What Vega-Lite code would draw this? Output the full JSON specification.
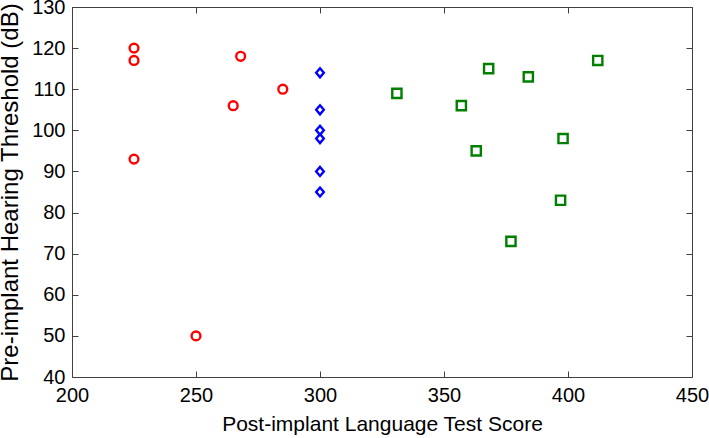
{
  "$schema": "https://vega.github.io/schema/vega-lite/v6.json",
  "width": 620,
  "height": 370,
  "autosize": {"type": "none"},
  "padding": {"left": 72, "top": 7, "right": 17, "bottom": 61},
  "background": "white",
  "config": {
    "view": {"stroke": "#404040", "strokeWidth": 1},
    "font": "Liberation Sans",
    "axis": {
      "grid": false,
      "domain": false,
      "tickColor": "#404040",
      "tickSize": -6,
      "labelFontSize": 20,
      "labelColor": "black",
      "labelFlush": false,
      "labelOverlap": false,
      "titleFontWeight": "normal",
      "titleColor": "black",
      "labelFont": "Liberation Sans",
      "titleFont": "Liberation Sans"
    }
  },
  "data": {
    "values": [
      {"score": 225, "threshold": 120, "group": "A"},
      {"score": 225, "threshold": 117, "group": "A"},
      {"score": 225, "threshold": 93, "group": "A"},
      {"score": 250, "threshold": 50, "group": "A"},
      {"score": 265, "threshold": 106, "group": "A"},
      {"score": 268, "threshold": 118, "group": "A"},
      {"score": 285, "threshold": 110, "group": "A"},
      {"score": 300, "threshold": 114, "group": "B"},
      {"score": 300, "threshold": 105, "group": "B"},
      {"score": 300, "threshold": 100, "group": "B"},
      {"score": 300, "threshold": 98, "group": "B"},
      {"score": 300, "threshold": 90, "group": "B"},
      {"score": 300, "threshold": 85, "group": "B"},
      {"score": 331, "threshold": 109, "group": "C"},
      {"score": 357, "threshold": 106, "group": "C"},
      {"score": 363, "threshold": 95, "group": "C"},
      {"score": 368, "threshold": 115, "group": "C"},
      {"score": 377, "threshold": 73, "group": "C"},
      {"score": 384, "threshold": 113, "group": "C"},
      {"score": 397, "threshold": 83, "group": "C"},
      {"score": 398, "threshold": 98, "group": "C"},
      {"score": 412, "threshold": 117, "group": "C"}
    ]
  },
  "layer": [
    {
      "mark": {"type": "point", "filled": false, "strokeWidth": 2.4, "opacity": 1},
      "encoding": {
        "x": {"field": "score", "type": "quantitative", "scale": {"domain": [200, 450], "nice": false, "zero": false},
              "axis": {"orient": "bottom", "values": [200, 250, 300, 350, 400, 450], "labelPadding": 14, "title": "Post-implant Language Test Score", "titleFontSize": 21, "titlePadding": 8}},
        "y": {"field": "threshold", "type": "quantitative", "scale": {"domain": [40, 130], "nice": false, "zero": false},
              "axis": {"orient": "left", "values": [40, 50, 60, 70, 80, 90, 100, 110, 120, 130], "labelPadding": 13, "title": "Pre-implant Hearing Threshold (dB)", "titleFontSize": 24, "titlePadding": 9}},
        "shape": {"field": "group", "type": "nominal", "legend": null,
                  "scale": {"domain": ["A", "B", "C"], "range": ["circle", "M0,-1L0.85,0L0,1L-0.85,0Z", "square"]}},
        "color": {"field": "group", "type": "nominal", "legend": null,
                  "scale": {"domain": ["A", "B", "C"], "range": ["#ff0000", "#0000ff", "#007f00"]}},
        "size": {"field": "group", "type": "nominal", "legend": null,
                 "scale": {"domain": ["A", "B", "C"], "range": [78, 85, 56]}}
      }
    },
    {
      "mark": {"type": "point", "opacity": 0},
      "encoding": {
        "x": {"field": "score", "type": "quantitative", "scale": {"domain": [200, 450], "nice": false, "zero": false},
              "axis": {"orient": "top", "values": [200, 250, 300, 350, 400, 450], "labels": false, "title": null}},
        "y": {"field": "threshold", "type": "quantitative", "scale": {"domain": [40, 130], "nice": false, "zero": false},
              "axis": {"orient": "right", "values": [40, 50, 60, 70, 80, 90, 100, 110, 120, 130], "labels": false, "title": null}}
      }
    }
  ],
  "resolve": {"axis": {"x": "independent", "y": "independent"}}
}
